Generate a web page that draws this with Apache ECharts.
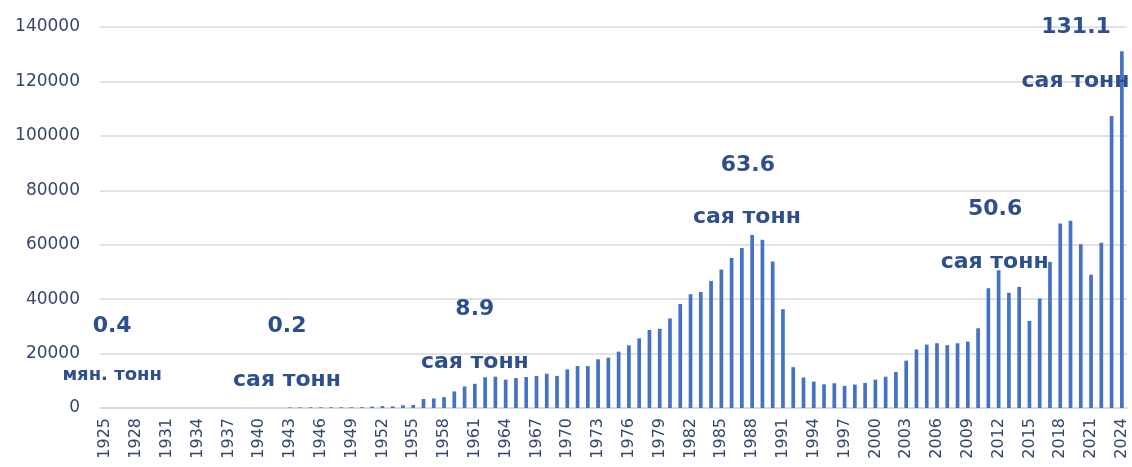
<!DOCTYPE html>
<html>
<head>
<meta charset="utf-8">
<script src="https://cdn.jsdelivr.net/npm/echarts@6/dist/echarts.min.js"></script>
<style>
  html, body { margin: 0; padding: 0; background: #fff; }
  #chart { width: 1132px; height: 467px; }
</style>
</head>
<body>
<div id="chart"></div>
<script>
// years 1925..2024
var years = [];
for (var y = 1925; y <= 2024; y++) years.push(String(y));

// production, thousand tonnes
var early = [0.4, 0.4, 0.5, 0.5, 0.6, 0.6, 0.7, 0.7, 0.8, 0.8, 0.9, 0.9, 1, 1, 1, 1, 1, 1]; // 1925-1942
var war = [200, 220, 240, 230, 250, 270, 260, 300]; // 1943-1950
var growth = [500, 700, 600, 1000, 1100, 3300, 3500, 4000, 6100, 7900,
    8900, 11300, 11500, 10400, 11000, 11400, 11800, 12600, 11800, 14200,
    15400, 15400, 17900, 18500, 20700, 23000, 25600, 28700, 29100, 32900,
    38200, 41800, 42600, 46700, 50900, 55100, 58800, 63600, 61800, 53800]; // 1951-1990
var recent = [36300, 15000, 11200, 9700, 8700, 9100, 8100, 8600, 9200, 10400,
    11500, 13200, 17400, 21500, 23300, 23800, 23100, 23800, 24400, 29300,
    44000, 50600, 42300, 44500, 32000, 40200, 53700, 67800, 68800, 60200,
    49000, 60700, 107300, 131100]; // 1991-2024
var values = early.concat(war, growth, recent);

var yTicks = [0, 20000, 40000, 60000, 80000, 100000, 120000, 140000];

// annotation texts
var noteText = ['0.4', 'мян. тонн', '0.2', 'сая тонн', '8.9', 'сая тонн',
    '63.6', 'сая тонн', '50.6', 'сая тонн', '131.1', 'сая тонн'];
var noteYear = ['1925', '1925', '1943', '1943', '1961', '1961',
    '1987', '1987', '2012', '2012', '2019', '2019'];
var noteLevel = [30100, 12100, 30100, 10300, 36400, 16900,
    89300, 69900, 73200, 53700, 140000, 120000];
var noteDx = [7, 7, -3, -3, 0, 0, 6, 5, -3.5, -4, 5.5, 5];
var noteSize = [22, 18, 22, 22, 22, 22, 22, 22, 22, 22, 22, 22];

var chart = echarts.init(document.getElementById('chart'));

var markData = noteText.map(function (t, i) {
    return {
        name: t,
        coord: [noteYear[i], noteLevel[i]],
        label: {
            show: true,
            position: 'inside',
            offset: [noteDx[i], 0],
            formatter: t,
            color: '#2E4F8E',
            fontWeight: 'bold',
            fontSize: noteSize[i],
            fontFamily: 'DejaVu Sans'
        }
    };
});

var option = {
    animation: false,
    grid: { left: 100, right: 5, top: 27, bottom: 59 },
    xAxis: {
        type: 'category',
        data: years,
        axisLine: { show: true, lineStyle: { color: '#D9D9D9', width: 1.5 } },
        axisTick: { show: false },
        axisLabel: {
            interval: 2,
            rotate: 90,
            margin: 10,
            color: '#34466E',
            fontSize: 16,
            fontFamily: 'DejaVu Sans'
        }
    },
    yAxis: {
        type: 'value',
        min: yTicks[0],
        max: yTicks[yTicks.length - 1],
        interval: 20000,
        axisLine: { show: false },
        axisTick: { show: false },
        splitLine: { lineStyle: { color: '#D9D9D9', width: 1.5 } },
        axisLabel: {
            margin: 20,
            color: '#34466E',
            fontSize: 17,
            fontFamily: 'DejaVu Sans',
            formatter: function (v) { return String(v); }
        }
    },
    series: [{
        type: 'bar',
        data: values,
        barWidth: '36%',
        itemStyle: { color: '#4472C4' },
        markPoint: {
            symbol: 'rect',
            symbolSize: 1,
            itemStyle: { color: 'rgba(0,0,0,0)' },
            silent: true,
            data: markData
        }
    }]
};

chart.setOption(option);
</script>
</body>
</html>
